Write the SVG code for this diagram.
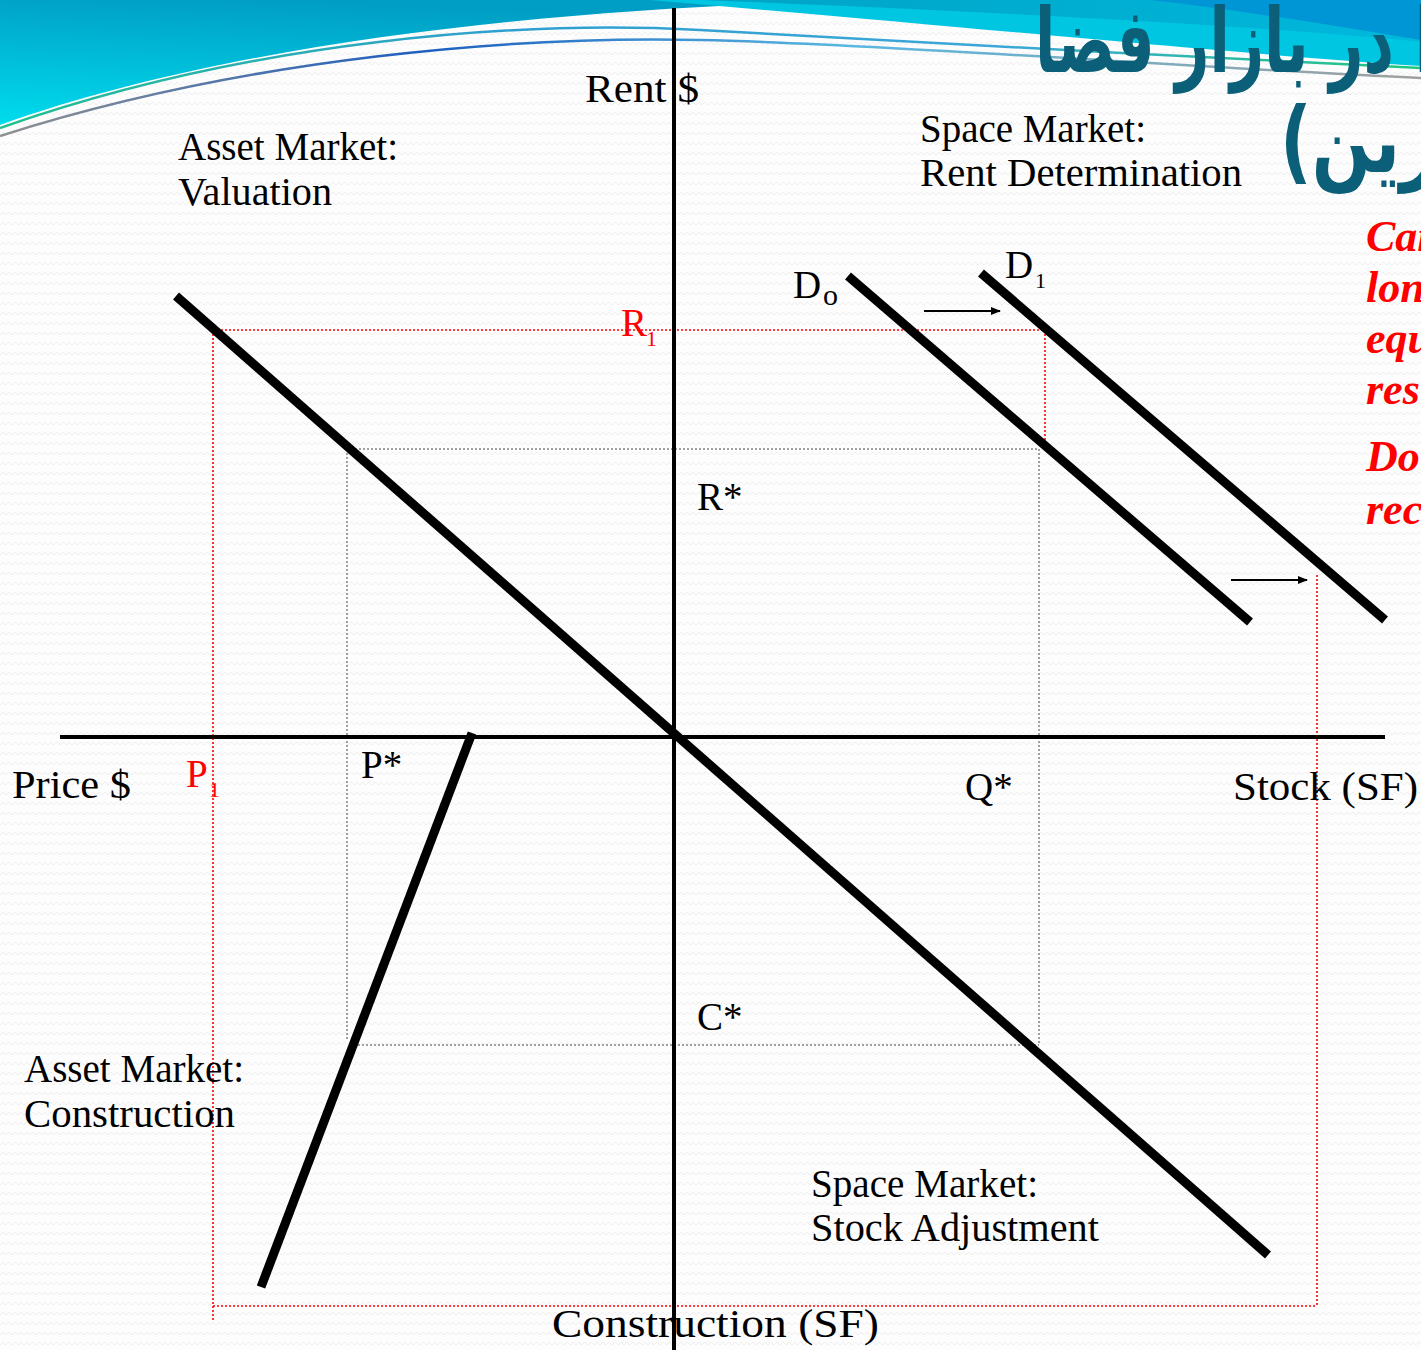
<svg xmlns="http://www.w3.org/2000/svg" width="1421" height="1350" viewBox="0 0 1421 1350">
<defs>
<style>
.t{font-family:"Liberation Serif","DejaVu Serif",serif;font-size:39px;fill:#000}
.r{fill:#f00}
.sub{font-size:22px}
.thick{stroke:#000;stroke-width:9;fill:none}
.axis{stroke:#000;stroke-width:4;fill:none}
.gd{stroke:#444;stroke-width:1;stroke-dasharray:2 2;fill:none}
.rd{stroke:#f00;stroke-width:1.6;stroke-dasharray:2 2;fill:none}
.arr{stroke:#000;stroke-width:2;fill:none}
.red{font-family:"Liberation Serif","DejaVu Serif",serif;font-size:44px;font-weight:bold;font-style:italic;fill:#f00}
.fa{font-family:"DejaVu Sans",sans-serif;font-weight:bold;font-size:90px;fill:#0b5f78}
</style>
<linearGradient id="gTL" x1="0" y1="1" x2="0.3" y2="0">
<stop offset="0" stop-color="#00dced"/>
<stop offset="1" stop-color="#009ec4"/>
</linearGradient>
<linearGradient id="gTR" x1="0" y1="0" x2="1" y2="0">
<stop offset="0" stop-color="#00a3c6"/>
<stop offset="1" stop-color="#00b8dc"/>
</linearGradient>
<linearGradient id="gL1" x1="0" y1="0" x2="1" y2="0">
<stop offset="0" stop-color="#20c090"/>
<stop offset="0.35" stop-color="#2f9fd0"/>
<stop offset="0.7" stop-color="#3aa7d8"/>
<stop offset="1" stop-color="#20c880"/>
</linearGradient>
<linearGradient id="gL2" x1="0" y1="0" x2="1" y2="0">
<stop offset="0" stop-color="#909090"/>
<stop offset="0.3" stop-color="#1d5fc0"/>
<stop offset="0.6" stop-color="#58b8e0"/>
<stop offset="1" stop-color="#a0a0a0"/>
</linearGradient>
<pattern id="zz" width="12" height="10" patternUnits="userSpaceOnUse">
<path d="M0,5 L3,2 L6,5 L9,2 L12,5" stroke="#eeeeee" stroke-width="1" fill="none"/>
</pattern>
<marker id="ah" viewBox="0 0 10 10" refX="9" refY="5" markerWidth="5" markerHeight="5" orient="auto" markerUnits="strokeWidth">
<path d="M0,1 L10,5 L0,9 Z" fill="#000"/>
</marker>
</defs>

<g id="background">
<rect width="1421" height="1350" fill="#fdfdfd"/>
<rect width="1421" height="1350" fill="url(#zz)"/>
<path d="M0,0 L880,0 C600,6 250,35 0,125 Z" fill="url(#gTL)"/>
<path d="M650,0 L1421,0 L1421,66 C1250,55 1000,30 650,0 Z" fill="#00c6e2"/>
<path d="M700,0 L1421,0 L1421,42 C1250,25 1000,12 700,0 Z" fill="url(#gTR)"/>
<path d="M1150,0 L1421,0 L1421,40 C1330,25 1240,10 1150,0 Z" fill="#0095d5"/>
<path d="M0,128 C250,40 520,20 700,30 S1200,58 1421,68" stroke="url(#gL1)" stroke-width="2.5" fill="none"/>
<path d="M0,136 C250,56 520,36 700,40 S1200,68 1421,78" stroke="url(#gL2)" stroke-width="2.5" fill="none"/>
</g>

<g id="title">
<text class="fa" x="1035" y="72" direction="rtl" text-anchor="end" textLength="400" lengthAdjust="spacingAndGlyphs">ا در بازار فضا</text>
<text class="fa" x="1280" y="172" direction="rtl" text-anchor="end" textLength="160" lengthAdjust="spacingAndGlyphs">زین)</text>
</g>

<g id="guides">
<path class="gd" d="M347,449 H1039 M347,449 V1040 M358,1045 H1039 M1039,449 V1045"/>
<path class="rd" d="M213,330 H1045 M1045,330 V443 M213,330 V1320 M213,1306 H1317 M1317,575 V1306"/>
</g>

<g id="connectors">
<line class="axis" x1="674" y1="8" x2="674" y2="1350"/>
<line class="axis" x1="60" y1="737" x2="1385" y2="737"/>
<line class="thick" x1="176" y1="296" x2="1268" y2="1255"/>
<line class="thick" x1="472" y1="733" x2="261" y2="1287"/>
<line class="thick" x1="848" y1="276" x2="1250" y2="622"/>
<line class="thick" x1="981" y1="273" x2="1385" y2="620"/>
<line class="arr" x1="924" y1="311" x2="1000" y2="311" marker-end="url(#ah)"/>
<line class="arr" x1="1231" y1="580" x2="1307" y2="580" marker-end="url(#ah)"/>
</g>

<g id="labels">
<text class="t" x="585" y="102" textLength="114" lengthAdjust="spacingAndGlyphs">Rent $</text>
<text class="t" x="178" y="160" textLength="220" lengthAdjust="spacingAndGlyphs">Asset Market:</text>
<text class="t" x="178" y="205" textLength="154" lengthAdjust="spacingAndGlyphs">Valuation</text>
<text class="t" x="920" y="142" textLength="226" lengthAdjust="spacingAndGlyphs">Space Market:</text>
<text class="t" x="920" y="186" textLength="322" lengthAdjust="spacingAndGlyphs">Rent Determination</text>
<text class="t" x="793" y="298">D<tspan x="823" y="305" style="font-size:30px">o</tspan></text>
<text class="t" x="1005" y="278">D<tspan class="sub" x="1035" y="288">1</tspan></text>
<text class="t r" x="621" y="336">R<tspan class="sub" x="646" y="346">1</tspan></text>
<text class="t" x="697" y="510">R*</text>
<text class="t r" x="186" y="787">P<tspan class="sub" x="209" y="797">1</tspan></text>
<text class="t" x="361" y="778">P*</text>
<text class="t" x="12" y="798" textLength="119" lengthAdjust="spacingAndGlyphs">Price $</text>
<text class="t" x="965" y="800">Q*</text>
<text class="t" x="1233" y="800" textLength="185" lengthAdjust="spacingAndGlyphs">Stock (SF)</text>
<text class="t" x="697" y="1030">C*</text>
<text class="t" x="24" y="1082" textLength="220" lengthAdjust="spacingAndGlyphs">Asset Market:</text>
<text class="t" x="24" y="1127" textLength="211" lengthAdjust="spacingAndGlyphs">Construction</text>
<text class="t" x="811" y="1197" textLength="227" lengthAdjust="spacingAndGlyphs">Space Market:</text>
<text class="t" x="811" y="1241" textLength="288" lengthAdjust="spacingAndGlyphs">Stock Adjustment</text>
<text class="t" x="552" y="1337" textLength="327" lengthAdjust="spacingAndGlyphs">Construction (SF)</text>
</g>

<g id="note">
<text class="red" x="1366" y="251">Can</text>
<text class="red" x="1366" y="302">lon</text>
<text class="red" x="1366" y="353">equ</text>
<text class="red" x="1366" y="404">res</text>
<text class="red" x="1366" y="471">Do</text>
<text class="red" x="1366" y="524">rec</text>
</g>
</svg>
